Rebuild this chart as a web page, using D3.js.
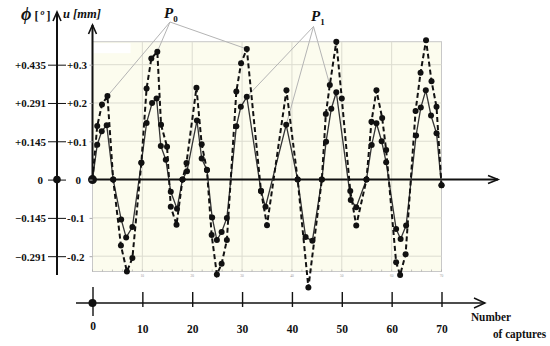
<!DOCTYPE html>
<html><head><meta charset="utf-8">
<script src="https://cdn.jsdelivr.net/npm/d3@7"></script>
<style>
body{margin:0;background:#fff}
svg{display:block}
text{font-family:"Liberation Serif","Times New Roman",serif;font-weight:bold;fill:#111}
</style>
</head><body><svg id="c" width="550" height="346"></svg>
<script>
// ---- data ----
const p0X = [0,0.95,1.9,3.0,4.15,5.7,6.9,8.0,9.8,10.85,11.8,13.0,13.75,14.95,15.7,16.85,18.05,18.85,20.85,21.9,22.95,23.9,24.95,25.9,26.95,28.85,29.8,30.95,33.8,35.0,38.9,41.15,43.3,46.0,46.8,47.6,48.9,50.0,51.7,52.9,54.95,55.95,56.95,58.1,58.9,60.9,61.7,62.8,64.8,65.8,66.9,68.0,69.0,70.0];
const p0Y = [0,0.14,0.196,0.218,0,-0.172,-0.24,-0.205,0.044,0.238,0.316,0.334,0.143,0.086,-0.071,-0.118,0,0.043,0.24,0.092,0.025,-0.145,-0.248,-0.22,-0.158,0.23,0.304,0.341,-0.03,-0.119,0.233,0,-0.282,0,0.171,0.247,0.36,0.212,-0.03,-0.12,0,0.151,0.233,0.161,0.077,-0.216,-0.249,-0.195,0.179,0.279,0.364,0.257,0.19,-0.015];
const p1X = [0,0.95,1.85,2.85,4.15,5.75,6.75,8.0,9.8,10.85,11.95,12.85,13.7,14.7,15.7,16.95,18.05,18.95,20.95,21.9,22.95,24.0,24.95,25.9,26.95,28.85,29.75,30.95,33.8,34.7,38.85,41.15,42.75,44.1,46.0,46.85,47.9,48.9,51.8,52.9,54.95,56.0,56.95,58.0,58.9,60.9,61.8,62.9,64.9,65.85,66.85,67.9,69.0,70.0];
const p1Y = [0,0.091,0.126,0.142,0,-0.104,-0.151,-0.124,0.044,0.148,0.2,0.212,0.088,0.052,-0.032,-0.076,0,0.022,0.154,0.055,0.025,-0.099,-0.158,-0.137,-0.1,0.139,0.19,0.216,-0.03,-0.071,0.143,0,-0.15,-0.16,0,0.099,0.185,0.228,-0.053,-0.072,0,0.09,0.147,0.1,0.045,-0.129,-0.155,-0.12,0.115,0.188,0.233,0.167,0.121,-0.015];
const uTicks = [0.3,0.2,0.1,0,-0.1,-0.2];
const uLabels = ["+0.3","+0.2","+0.1","0","-0.1","-0.2"];
const phiLabels = ["+0.435","+0.291","+0.145","0","\u22120.145","\u22120.291"];
const captureTicks = [0,10,20,30,40,50,60,70];
const gridX = [10,20,30,40,50,60];
const gridY = [-0.2,-0.1,0.1,0.2,0.3];
const minorX = d3.range(0,71,2);
// leader lines: [series, index]
const p0Leaders = [[0,3],[0,11],[0,27]];
const p1Leaders = [[1,27],[1,30],[0,35]];

// ---- layout ----
const svg = d3.select("#c");
const x = d3.scaleLinear().domain([0,70]).range([92.5,441.5]);
const y = d3.scaleLinear().domain([-0.24,0.36]).range([271.5,41.7]);
const series = [p0X.map((v,i)=>[v,p0Y[i]]), p1X.map((v,i)=>[v,p1Y[i]])];
const phiX = 57, capY = 303;

// plot background
svg.append("rect").attr("x",x(0)).attr("y",y(0.36)).attr("width",x(70)-x(0)).attr("height",y(-0.24)-y(0.36))
  .attr("fill","#fcfcee").attr("stroke","#c8c8c8").attr("stroke-width",1);
svg.append("rect").attr("x",x(0)+1).attr("y",y(0.36)+1.5).attr("width",37).attr("height",10).attr("fill","#fff");
// grid
svg.append("g").selectAll("line").data(gridX).join("line")
  .attr("x1",d=>x(d)).attr("x2",d=>x(d)).attr("y1",y(0.36)).attr("y2",y(-0.24))
  .attr("stroke","#dcdcd0").attr("stroke-width",1);
svg.append("g").selectAll("line").data(gridY).join("line")
  .attr("x1",x(0)).attr("x2",x(70)).attr("y1",d=>y(d)).attr("y2",d=>y(d))
  .attr("stroke","#dcdcd0").attr("stroke-width",1);
// tiny inner ticks & labels
svg.append("g").selectAll("line").data(minorX).join("line")
  .attr("x1",d=>x(d)).attr("x2",d=>x(d)).attr("y1",y(-0.24)).attr("y2",y(-0.24)-2)
  .attr("stroke","#aaa").attr("stroke-width",0.7);
svg.append("g").selectAll("text").data(gridX.concat([70])).join("text")
  .attr("x",d=>x(d)).attr("y",y(-0.24)+5).attr("text-anchor","middle")
  .style("font-size","3.5px").style("font-weight","normal").style("fill","#999").text(d=>d);

// leader lines
const leaderG = svg.append("g").attr("stroke","#b4b4b4").attr("stroke-width",1).attr("fill","none");
p0Leaders.forEach(([s,i])=>{
  const d = series[s][i];
  leaderG.append("line").attr("x1",170).attr("y1",22).attr("x2",x(d[0])).attr("y2",y(d[1]));
});
p1Leaders.forEach(([s,i])=>{
  const d = series[s][i];
  leaderG.append("line").attr("x1",313.5).attr("y1",26.5).attr("x2",x(d[0])).attr("y2",y(d[1]));
});

// zero line with arrow
svg.append("line").attr("x1",x(0)).attr("x2",498).attr("y1",y(0)).attr("y2",y(0))
  .attr("stroke","#111").attr("stroke-width",2);
svg.append("path").attr("d",`M488,${y(0)-4} L498,${y(0)} L488,${y(0)+4}`)
  .attr("fill","none").attr("stroke","#111").attr("stroke-width",1.6);

// series
const line = d3.line().x(d=>x(d[0])).y(d=>y(d[1]));
svg.append("path").datum(series[1]).attr("d",line).attr("fill","none")
  .attr("stroke","#333").attr("stroke-width",1.3);
svg.append("path").datum(series[0]).attr("d",line).attr("fill","none")
  .attr("stroke","#111").attr("stroke-width",2).attr("stroke-dasharray","5,3");
series.forEach(s=>{
  svg.append("g").selectAll("circle").data(s).join("circle")
    .attr("cx",d=>x(d[0])).attr("cy",d=>y(d[1])).attr("r",3).attr("fill","#111");
});
svg.append("circle").attr("cx",x(0)).attr("cy",y(0)).attr("r",4.5).attr("fill","#111");

// u axis (inner)
svg.append("line").attr("x1",x(0)).attr("x2",x(0)).attr("y1",25).attr("y2",y(0))
  .attr("stroke","#111").attr("stroke-width",2);
svg.append("path").attr("d",`M${x(0)-4},34 L${x(0)},25 L${x(0)+4},34`)
  .attr("fill","none").attr("stroke","#111").attr("stroke-width",1.6);
const uAxis = svg.append("g").attr("transform",`translate(${x(0)},0)`)
  .call(d3.axisLeft(y).tickValues(uTicks).tickSize(3).tickFormat((d,i)=>uLabels[i]));
uAxis.select(".domain").remove();
uAxis.selectAll(".tick line").attr("stroke","#aaa");
uAxis.selectAll(".tick text").attr("text-anchor","start").attr("x",d=>d===0?-17:-25.5).attr("dy","0.35em")
  .style("font-size","11px").style("font-family","'Liberation Serif',serif").style("font-weight","bold");

// phi axis (outer)
svg.append("line").attr("x1",phiX).attr("x2",phiX).attr("y1",12).attr("y2",275)
  .attr("stroke","#111").attr("stroke-width",2);
svg.append("path").attr("d",`M${phiX-4},21 L${phiX},12 L${phiX+4},21`)
  .attr("fill","none").attr("stroke","#111").attr("stroke-width",1.6);
const phiAxis = svg.append("g").attr("transform",`translate(${phiX},0)`)
  .call(d3.axisLeft(y).tickValues(uTicks).tickSize(0).tickFormat((d,i)=>phiLabels[i]));
phiAxis.select(".domain").remove();
phiAxis.selectAll(".tick line").attr("x1",-9).attr("x2",9).attr("stroke","#111").attr("stroke-width",1);
phiAxis.selectAll(".tick text").attr("x",d=>d===0?-14:-11).attr("dy","0.35em").attr("text-anchor","end")
  .style("font-size","11px").style("font-family","'Liberation Serif',serif").style("font-weight","bold");
svg.append("circle").attr("cx",phiX).attr("cy",y(0)).attr("r",3.8).attr("fill","#111");

// capture axis (bottom)
svg.append("line").attr("x1",76).attr("x2",485).attr("y1",capY).attr("y2",capY)
  .attr("stroke","#111").attr("stroke-width",1.6);
svg.append("path").attr("d",`M474,${capY-5} L485,${capY} L474,${capY+5}`)
  .attr("fill","none").attr("stroke","#111").attr("stroke-width",1.4);
const capAxis = svg.append("g").attr("transform",`translate(0,${capY})`)
  .call(d3.axisBottom(x).tickValues(captureTicks).tickSize(0));
capAxis.select(".domain").remove();
capAxis.selectAll(".tick line").attr("y1",d=>d===0?-16:-11).attr("y2",d=>d===0?13:4)
  .attr("stroke","#111").attr("stroke-width",1.4);
capAxis.selectAll(".tick text").attr("y",d=>d===0?27:30).attr("dy","0")
  .style("font-size","11.5px").style("font-family","'Liberation Serif',serif").style("font-weight","bold");
svg.append("circle").attr("cx",x(0)).attr("cy",capY).attr("r",4).attr("fill","#111");
svg.append("text").attr("x",471).attr("y",321).attr("textLength",40).attr("lengthAdjust","spacingAndGlyphs")
  .style("font-size","11.5px").text("Number");
svg.append("text").attr("x",493).attr("y",338).attr("textLength",53).attr("lengthAdjust","spacingAndGlyphs")
  .style("font-size","11.5px").text("of captures");

// headers
const phiT = svg.append("text").attr("x",21).attr("y",20);
phiT.append("tspan").style("font-size","18px").style("font-style","italic").text("\u03d5");
phiT.append("tspan").attr("dx",3).style("font-size","12px").text("[");
phiT.append("tspan").attr("dx",2).attr("dy",-5).style("font-size","8px").style("font-style","italic").text("o");
phiT.append("tspan").attr("dx",2).attr("dy",5).style("font-size","12px").text("]");
svg.append("text").attr("x",63).attr("y",18).style("font-size","12.5px").style("font-style","italic").text("u [mm]");

const p0T = svg.append("text").attr("x",164).attr("y",18);
p0T.append("tspan").style("font-size","15px").style("font-style","italic").text("P");
p0T.append("tspan").attr("dy",4).style("font-size","9px").text("0");
const p1T = svg.append("text").attr("x",311).attr("y",21);
p1T.append("tspan").style("font-size","15px").style("font-style","italic").text("P");
p1T.append("tspan").attr("dy",4).style("font-size","9px").text("1");
</script>
</body></html>
